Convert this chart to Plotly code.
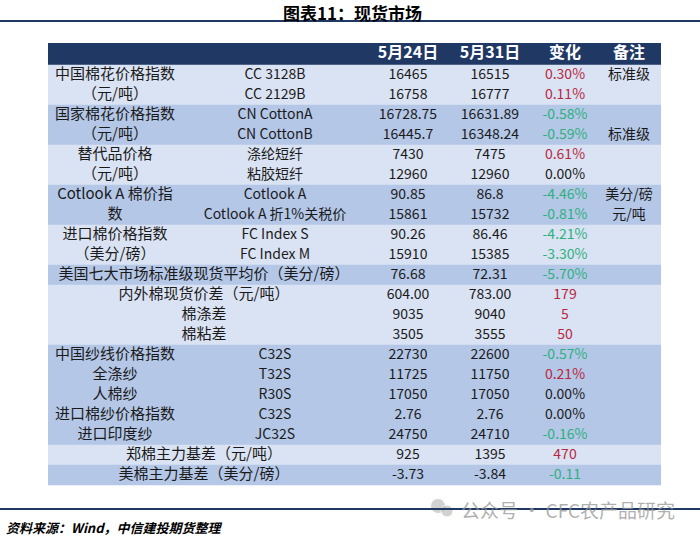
import plotly.graph_objects as go

# 数据
items = ["中国棉花价格指数", "（元/吨）", "国家棉花价格指数", "（元/吨）", "替代品价格", "（元/吨）",
         "Cotlook A 棉价指", "数", "进口棉价格指数", "（美分/磅）",
         "美国七大市场标准级现货平均价（美分/磅）", "内外棉现货价差（元/吨）", "棉涤差", "棉粘差",
         "中国纱线价格指数", "全涤纱", "人棉纱", "进口棉纱价格指数", "进口印度纱",
         "郑棉主力基差（元/吨）", "美棉主力基差（美分/磅）"]
codes = ["CC 3128B", "CC 2129B", "CN CottonA", "CN CottonB", "涤纶短纤", "粘胶短纤",
         "Cotlook A", "Cotlook A 折1%关税价", "FC Index S", "FC Index M",
         "", "", "", "", "C32S", "T32S", "R30S", "C32S", "JC32S", "", ""]
may24 = ["16465", "16758", "16728.75", "16445.7", "7430", "12960", "90.85", "15861", "90.26", "15910",
         "76.68", "604.00", "9035", "3505", "22730", "11725", "17050", "2.76", "24750", "925", "-3.73"]
may31 = ["16515", "16777", "16631.89", "16348.24", "7475", "12960", "86.8", "15732", "86.46", "15385",
         "72.31", "783.00", "9040", "3555", "22600", "11750", "17050", "2.76", "24710", "1395", "-3.84"]
change = ["0.30%", "0.11%", "-0.58%", "-0.59%", "0.61%", "0.00%", "-4.46%", "-0.81%", "-4.21%", "-3.30%",
          "-5.70%", "179", "5", "50", "-0.57%", "0.21%", "0.00%", "0.00%", "-0.16%", "470", "-0.11"]
notes = ["标准级", "", "", "标准级", "", "", "美分/磅", "元/吨", "", "",
         "", "", "", "", "", "", "", "", "", "", ""]
shade = [0, 0, 1, 1, 0, 0, 1, 1, 0, 0, 1, 0, 0, 0, 1, 1, 1, 1, 1, 0, 1]
headers = ["5月24日", "5月31日", "变化", "备注"]

# 版式（坐标按页面像素计）
LEFT, RIGHT = 48, 661
HEAD_TOP, HEAD_H, ROW_H = 43, 22, 20
COL_X = [115, 275, 408, 490, 565, 629]
MERGED_X = 204
FONT = "Noto Sans CJK SC"
NAVY = "#1f3864"
FILLS = ["#dae3f3", "#b4c7e7"]
TXT = "#1a1a1a"

n = len(items)
row_y = [HEAD_TOP + HEAD_H + ROW_H * i + ROW_H / 2 for i in range(n)]
head_y = HEAD_TOP + HEAD_H / 2


def chg_color(s):
    v = float(s.replace("%", ""))
    if v > 0:
        return "#b8283e"
    if v < 0:
        return "#2eb07e"
    return TXT


fig = go.Figure()

# 表头和行底色
fig.add_trace(go.Bar(y=[head_y], x=[RIGHT - LEFT], base=LEFT, orientation="h", width=HEAD_H,
                     marker=dict(color=NAVY, line=dict(width=0))))
fig.add_trace(go.Bar(y=row_y, x=[RIGHT - LEFT] * n, base=LEFT, orientation="h", width=ROW_H + 0.4,
                     marker=dict(color=[FILLS[s] for s in shade], line=dict(width=0))))

# 表头文字
fig.add_trace(go.Scatter(x=COL_X[2:], y=[head_y] * 4, mode="text", text=["<b>%s</b>" % h for h in headers],
                         textfont=dict(family=FONT, size=16, color="white")))

# 第一列
fig.add_trace(go.Scatter(x=[COL_X[0] if c else MERGED_X for c in codes], y=row_y, mode="text", text=items,
                         textfont=dict(family=FONT, size=15, color=TXT)))
# 第二列
fig.add_trace(go.Scatter(x=[COL_X[1]] * n, y=row_y, mode="text", text=codes,
                         textfont=dict(family=FONT, size=14, color=TXT)))
# 数值
fig.add_trace(go.Scatter(x=[COL_X[2]] * n, y=row_y, mode="text", text=may24,
                         textfont=dict(family=FONT, size=14, color=TXT)))
fig.add_trace(go.Scatter(x=[COL_X[3]] * n, y=row_y, mode="text", text=may31,
                         textfont=dict(family=FONT, size=14, color=TXT)))
fig.add_trace(go.Scatter(x=[COL_X[4]] * n, y=row_y, mode="text", text=change,
                         textfont=dict(family=FONT, size=14, color=[chg_color(c) for c in change])))
fig.add_trace(go.Scatter(x=[COL_X[5]] * n, y=row_y, mode="text", text=notes,
                         textfont=dict(family=FONT, size=14, color=TXT)))

# 水印图标
fig.add_trace(go.Scatter(x=[438, 447], y=[506, 511], mode="markers",
                         marker=dict(size=[15, 12], color="rgba(150,150,150,0.6)",
                                     line=dict(width=1, color="white"))))

fig.update_layout(
    width=700, height=540,
    margin=dict(l=0, r=0, t=0, b=0),
    paper_bgcolor="white", plot_bgcolor="white",
    showlegend=False, hovermode=False,
    xaxis=dict(range=[0, 700], visible=False, fixedrange=True),
    yaxis=dict(range=[540, 0], visible=False, fixedrange=True),
    shapes=[
        dict(type="line", xref="x", yref="y", x0=0, x1=700, y0=21, y1=21, line=dict(color=NAVY, width=2)),
        dict(type="line", xref="x", yref="y", x0=0, x1=700, y0=509, y1=509, line=dict(color=NAVY, width=2)),
    ],
    annotations=[
        dict(x=352, y=12, xref="x", yref="y", text="<b>图表11：现货市场</b>", showarrow=False,
             font=dict(family=FONT, size=17, color="black")),
        dict(x=4, y=527, xref="x", yref="y", xanchor="left", text="<b><i>资料来源：Wind，中信建投期货整理</i></b>",
             showarrow=False, font=dict(family=FONT, size=13, color="black")),
        dict(x=459, y=509, xref="x", yref="y", xanchor="left", text="公众号 · CFC农产品研究",
             showarrow=False, font=dict(family=FONT, size=19, color="rgba(150,150,150,0.75)")),
    ],
)

# 去掉页面默认边距，让图正好铺满 700x540 窗口
fig.write_html("out.html", config={"displayModeBar": False},
               post_script="document.body.style.margin='0';")
